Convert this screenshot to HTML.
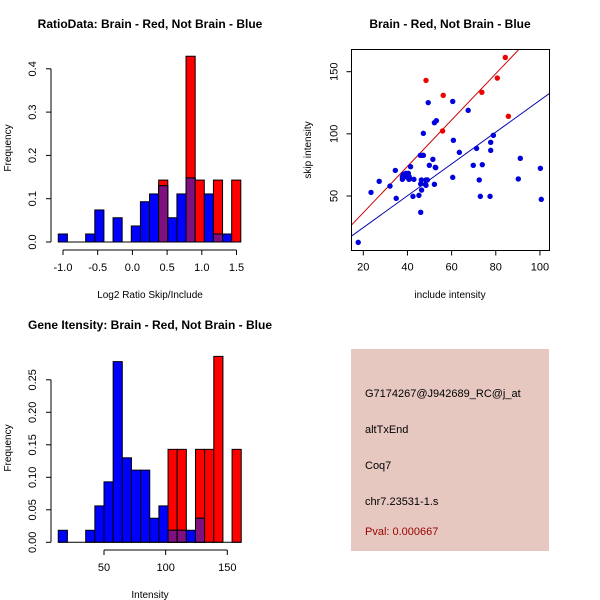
<!DOCTYPE html>
<html><head><meta charset="utf-8">
<style>body{margin:0;background:#fff}svg{display:block;font-family:"Liberation Sans",sans-serif}</style>
</head><body>
<svg id="c" width="600" height="600"></svg>
<script>
// Panel 1: ratio histogram
const ratioBreakStart = -1.068, ratioBreakStep = 0.1315;
const ratioBlue = [0.0185,0,0,0.0185,0.074,0,0.056,0,0.037,0.093,0.111,0.13,0.056,0.111,0.148,0,0.111,0.0185,0.0185,0];
const ratioRed  = [0,0,0,0,0,0,0,0,0,0,0,0.143,0,0,0.429,0.143,0,0.143,0,0.143];
const ratioXTicks = [-1.0,-0.5,0.0,0.5,1.0,1.5];
const ratioYTicks = [0.0,0.1,0.2,0.3,0.4];
// Panel 2: intensity histogram
const intBreakStart = 12.9, intBreakStep = 7.42;
const intBlue = [0.0185,0,0,0.0185,0.056,0.093,0.278,0.13,0.111,0.111,0.037,0.056,0.0185,0.0185,0.0185,0.037,0,0,0,0];
const intRed  = [0,0,0,0,0,0,0,0,0,0,0,0,0.143,0.143,0,0.143,0.143,0.286,0,0.143];
const intXTicks = [50,100,150];
const intYTicks = [0.00,0.05,0.10,0.15,0.20,0.25];
// Panel 3: scatter
const redX = [48.4,56.2,55.9,73.7,80.7,84.3,85.7];
const redY = [143.0,131.0,102.3,133.4,144.9,161.5,114.1];
const blueX = [17.7,23.5,27.2,32.1,34.5,34.9,37.7,37.7,38.1,38.9,39.3,39.9,40.7,40.4,40.8,41.4,42.9,42.5,45.2,46.0,46.0,46.3,46.4,46.7,47.2,45.8,47.2,48.1,48.4,48.4,49.0,49.4,49.9,51.5,52.2,52.8,53.1,52.2,52.6,60.5,60.8,60.5,63.5,67.5,69.8,71.3,72.5,73.0,73.9,77.4,77.7,77.7,78.9,90.2,91.1,100.2,100.6];
const blueY = [12.7,52.9,61.8,58.0,70.6,48.1,65.5,63.4,67.4,66.9,68.2,65.0,63.4,68.2,65.5,73.6,63.4,49.7,50.5,36.9,59.7,62.9,54.8,82.7,100.4,82.7,82.7,59.4,58.6,62.9,62.9,125.1,74.7,79.5,109.0,72.8,110.6,59.4,73.1,126.1,94.8,65.0,85.1,118.9,74.7,88.3,62.9,49.7,75.2,49.7,93.2,86.7,98.8,63.7,80.3,72.3,47.3];
const redFit = [-0.7,1.864];
const blueFit = [-1.0,1.28];
const scXTicks = [20,40,60,80,100];
const scYTicks = [50,100,150];

const svg = document.getElementById('c');
const NS = 'http://www.w3.org/2000/svg';
function mk(tag, attrs, parent, text){
  const e = document.createElementNS(NS, tag);
  for (const k in attrs) e.setAttribute(k, attrs[k]);
  if (text !== undefined) e.textContent = text;
  (parent || svg).appendChild(e);
  return e;
}
function txt(x,y,s,opt){
  const o = Object.assign({x:x,y:y,'font-size':11,'text-anchor':'middle',fill:'#000'}, opt||{});
  return mk('text', o, null, s);
}

function histogram(name, bs, bstep, blue, red, xTicks, yTicks, sx, sy, axisY, yLabelX, fmtY){
  const g = mk('g', {});
  
  
  for (let i=0;i<blue.length;i++){
    const x0 = sx(bs + i*bstep), x1 = sx(bs + (i+1)*bstep);
    const r = red[i], b = blue[i];
    if (r>0){
      const rr = mk('rect',{x:x0,y:sy(r),width:x1-x0,height:sy(0)-sy(r),fill:'#ff0000',stroke:'#000','stroke-width':1},g);
      
      
    }
    if (b>0){
      const br = mk('rect',{x:x0,y:sy(b),width:x1-x0,height:sy(0)-sy(b),fill:'#0000ff',stroke:'#000','stroke-width':1},g);
      
      
    }
    if (r>0 && b>0){
      const m = Math.min(r,b);
      const pr = mk('rect',{x:x0,y:sy(m),width:x1-x0,height:sy(0)-sy(m),fill:'#7f1080',stroke:'#000','stroke-width':1},g);
      
      
    }
  }
  mk('line',{x1:sx(bs),x2:sx(bs+blue.length*bstep),y1:sy(0),y2:sy(0),stroke:'#000'},g);
  mk('line',{x1:sx(xTicks[0]),x2:sx(xTicks[xTicks.length-1]),y1:axisY,y2:axisY,stroke:'#000'},g);
  xTicks.forEach(t=>{
    mk('line',{x1:sx(t),x2:sx(t),y1:axisY,y2:axisY+5,stroke:'#000'},g);
    const l = txt(sx(t),axisY+21,fmtX(t));
    
    
  });
  const ax = yLabelX+15;
  mk('line',{x1:ax,x2:ax,y1:sy(yTicks[0]),y2:sy(yTicks[yTicks.length-1]),stroke:'#000'},g);
  yTicks.forEach(t=>{
    mk('line',{x1:ax,x2:ax-5,y1:sy(t),y2:sy(t),stroke:'#000'},g);
    const l = mk('text',{x:0,y:0,'font-size':11,'text-anchor':'middle',transform:`translate(${yLabelX},${sy(t)}) rotate(-90)`},null,fmtY(t));
    
    
  });
  function fmtX(t){ return name==='ratio-histogram' ? t.toFixed(1) : String(t); }
}

// Panel 1
(function(){
  const sx = v => 63 + (v+1)*69.4;
  const sy = v => 242 - v*433;
  histogram('ratio-histogram', ratioBreakStart, ratioBreakStep, ratioBlue, ratioRed, ratioXTicks, ratioYTicks, sx, sy, 250, 36, t=>t.toFixed(1));
  const t = txt(150,28,'RatioData: Brain - Red, Not Brain - Blue',{'font-weight':'bold','font-size':12});
   
  const xl = txt(150,298,'Log2 Ratio Skip/Include',{'font-size':10});
   
  const yl = mk('text',{x:0,y:0,'font-size':10,'text-anchor':'middle',transform:'translate(11,148) rotate(-90)'},null,'Frequency');
   
})();

// Panel 2
(function(){
  const sx = v => 104 + (v-50)*1.233;
  const sy = v => 542.3 - v*650;
  histogram('intensity-histogram', intBreakStart, intBreakStep, intBlue, intRed, intXTicks, intYTicks, sx, sy, 550, 36, t=>t.toFixed(2));
  const t = txt(150,329,'Gene Itensity: Brain - Red, Not Brain - Blue',{'font-weight':'bold','font-size':12});
   
  const xl = txt(150,598,'Intensity',{'font-size':10});
   
  const yl = mk('text',{x:0,y:0,'font-size':10,'text-anchor':'middle',transform:'translate(11,448) rotate(-90)'},null,'Frequency');
   
})();

// Panel 3
(function(){
  const sx = v => 363.3 + (v-20)*2.208;
  const sy = v => 196 - (v-50)*1.243;
  const L=351.5,R=549.5,T=49.5,B=250.5;
  const g = mk('g',{});
   
  const cp = mk('clipPath',{id:'clip'},g);
  mk('rect',{x:L,y:T,width:R-L,height:B-T},cp);
  const lg = mk('g',{'clip-path':'url(#clip)'},g);
  const xa = (L-363.3)/2.208+20, xb=(R-363.3)/2.208+20;
  const rl = mk('line',{x1:sx(xa),y1:sy(redFit[0]+redFit[1]*xa),x2:sx(xb),y2:sy(redFit[0]+redFit[1]*xb),stroke:'#cc0000','stroke-width':1},lg);
   
  const bl = mk('line',{x1:sx(xa),y1:sy(blueFit[0]+blueFit[1]*xa),x2:sx(xb),y2:sy(blueFit[0]+blueFit[1]*xb),stroke:'#0000aa','stroke-width':1},lg);
   
  blueX.forEach((x,i)=>{
    const c = mk('circle',{cx:sx(x),cy:sy(blueY[i]),r:2.7,fill:'#0000dd'},lg);
     
  });
  redX.forEach((x,i)=>{
    const c = mk('circle',{cx:sx(x),cy:sy(redY[i]),r:2.7,fill:'#ee0000'},lg);
     
  });
  mk('rect',{x:L,y:T,width:R-L,height:B-T,fill:'none',stroke:'#000'},g);
  scXTicks.forEach(t=>{
    mk('line',{x1:sx(t),x2:sx(t),y1:B,y2:B+5,stroke:'#000'},g);
    const l = txt(sx(t),B+20,String(t));
     
  });
  scYTicks.forEach(t=>{
    mk('line',{x1:L,x2:L-5,y1:sy(t),y2:sy(t),stroke:'#000'},g);
    const l = mk('text',{x:0,y:0,'font-size':11,'text-anchor':'middle',transform:`translate(${L-14},${sy(t)}) rotate(-90)`},null,String(t));
     
  });
  const t = txt(450,28,'Brain - Red, Not Brain - Blue',{'font-weight':'bold','font-size':12});
   
  const xl = txt(450,298,'include intensity',{'font-size':10});
   
  const yl = mk('text',{x:0,y:0,'font-size':10,'text-anchor':'middle',transform:'translate(311,150) rotate(-90)'},null,'skip intensity');
   
})();
</script>
<div style="position:absolute;left:351px;top:349px;width:198px;height:202px;background:#e6c8c1;font-family:'Liberation Sans',sans-serif;font-size:11px;">
  <div style="position:absolute;left:14px;top:39px">G7174267@J942689_RC@j_at</div>
  <div style="position:absolute;left:14px;top:75px">altTxEnd</div>
  <div style="position:absolute;left:14px;top:111px">Coq7</div>
  <div style="position:absolute;left:14px;top:147px">chr7.23531-1.s</div>
  <div style="position:absolute;left:14px;top:177px;color:#990000">Pval: 0.000667</div>
</div>
</body></html>
